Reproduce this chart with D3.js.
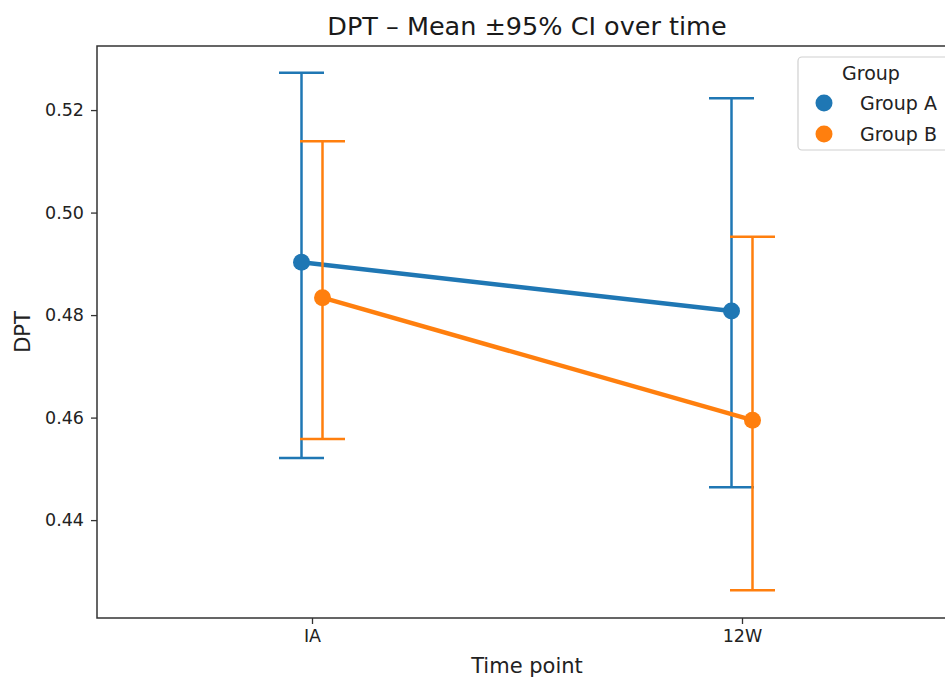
<!DOCTYPE html>
<html>
<head>
<meta charset="utf-8">
<script src="https://cdn.jsdelivr.net/npm/d3@7/dist/d3.min.js"></script>
<style>
  html, body { margin: 0; padding: 0; background: #fff; }
  svg { display: block; font-family: "DejaVu Sans", sans-serif; }
</style>
</head>
<body>
<svg id="chart" width="945" height="679"></svg>
<script>
// ---- data ----
const timepoints = ["IA", "12W"];
const groups = ["Group A", "Group B"];
const colors = ["#1f77b4", "#ff7f0e"];
const groupAMean = [0.4903, 0.4808];
const groupALow  = [0.4521, 0.4464];
const groupAHigh = [0.5273, 0.5223];
const groupBMean = [0.4834, 0.4595];
const groupBLow  = [0.4558, 0.4263];
const groupBHigh = [0.5139, 0.4953];
const yTicks = [0.44, 0.46, 0.48, 0.50, 0.52];
const titleText = "DPT \u2013 Mean \u00b195% CI over time";
const xLabel = "Time point";
const yLabel = "DPT";
const legendTitle = "Group";

const series = [
  { name: groups[0], color: colors[0], mean: groupAMean, low: groupALow, high: groupAHigh, dodge: -10.5 },
  { name: groups[1], color: colors[1], mean: groupBMean, low: groupBLow, high: groupBHigh, dodge: 10.5 }
];

// ---- layout ----
const svg = d3.select("#chart");
const pLeft = 97, pRight = 957, pTop = 46, pBottom = 618;

const x = d3.scalePoint().domain(timepoints).range([pLeft, pRight]).padding(0.5);
const y = d3.scaleLinear().domain([0.4209, 0.5325]).range([pBottom, pTop]);

const axisColor = "#333";

// title
svg.append("text")
  .attr("x", (pLeft + pRight) / 2)
  .attr("y", 35)
  .attr("text-anchor", "middle")
  .attr("font-size", 25.5)
  .attr("fill", "#1a1a1a")
  .text(titleText);

// series
series.forEach(s => {
  const g = svg.append("g");
  timepoints.forEach((t, i) => {
    const cx = x(t) + s.dodge;
    g.append("line")
      .attr("x1", cx).attr("x2", cx)
      .attr("y1", y(s.low[i])).attr("y2", y(s.high[i]))
      .attr("stroke", s.color).attr("stroke-width", 2.5);
    [s.low[i], s.high[i]].forEach(v => {
      g.append("line")
        .attr("x1", cx - 22.5).attr("x2", cx + 22.5)
        .attr("y1", y(v)).attr("y2", y(v))
        .attr("stroke", s.color).attr("stroke-width", 2.5);
    });
  });
  const line = d3.line()
    .x((d, i) => x(timepoints[i]) + s.dodge)
    .y(d => y(d));
  g.append("path")
    .datum(s.mean)
    .attr("d", line)
    .attr("fill", "none")
    .attr("stroke", s.color)
    .attr("stroke-width", 4.5);
  g.selectAll("circle")
    .data(s.mean)
    .join("circle")
    .attr("cx", (d, i) => x(timepoints[i]) + s.dodge)
    .attr("cy", d => y(d))
    .attr("r", 8.5)
    .attr("fill", s.color);
});

// axes
const yAxis = d3.axisLeft(y).tickValues(yTicks).tickFormat(d3.format(".2f")).tickSize(6).tickPadding(7);
const yg = svg.append("g").attr("transform", `translate(${pLeft},0)`).call(yAxis);
yg.select(".domain").remove();
yg.selectAll("line").attr("stroke", axisColor).attr("stroke-width", 1.3);
yg.selectAll("text").attr("font-size", 17.5).attr("fill", "#222").attr("font-family", "DejaVu Sans, sans-serif");

const xAxis = d3.axisBottom(x).tickSize(6).tickPadding(6);
const xg = svg.append("g").attr("transform", `translate(0,${pBottom})`).call(xAxis);
xg.select(".domain").remove();
xg.selectAll("line").attr("stroke", axisColor).attr("stroke-width", 1.3);
xg.selectAll("text").attr("font-size", 17.5).attr("fill", "#222").attr("font-family", "DejaVu Sans, sans-serif");

// frame
svg.append("rect")
  .attr("x", pLeft).attr("y", pTop)
  .attr("width", pRight - pLeft).attr("height", pBottom - pTop)
  .attr("fill", "none").attr("stroke", axisColor).attr("stroke-width", 1.5);

// axis labels
svg.append("text")
  .attr("x", (pLeft + pRight) / 2).attr("y", 673)
  .attr("text-anchor", "middle").attr("font-size", 21).attr("fill", "#222")
  .text(xLabel);
svg.append("text")
  .attr("transform", `translate(30,${(pTop + pBottom) / 2}) rotate(-90)`)
  .attr("text-anchor", "middle").attr("font-size", 21).attr("fill", "#222")
  .text(yLabel);

// legend
const lg = svg.append("g");
lg.append("rect")
  .attr("x", 798).attr("y", 57).attr("width", 200).attr("height", 93)
  .attr("rx", 4).attr("fill", "#fff").attr("fill-opacity", 0.85)
  .attr("stroke", "#d0d0d0").attr("stroke-width", 1.2);
lg.append("text")
  .attr("x", 871).attr("y", 80)
  .attr("text-anchor", "middle").attr("font-size", 19).attr("fill", "#222")
  .text(legendTitle);
series.forEach((s, i) => {
  const cy = 103 + i * 31;
  lg.append("circle").attr("cx", 824).attr("cy", cy).attr("r", 8.5).attr("fill", s.color);
  lg.append("text")
    .attr("x", 860).attr("y", cy + 6.5)
    .attr("font-size", 19).attr("fill", "#222")
    .text(s.name);
});
</script>
</body>
</html>
